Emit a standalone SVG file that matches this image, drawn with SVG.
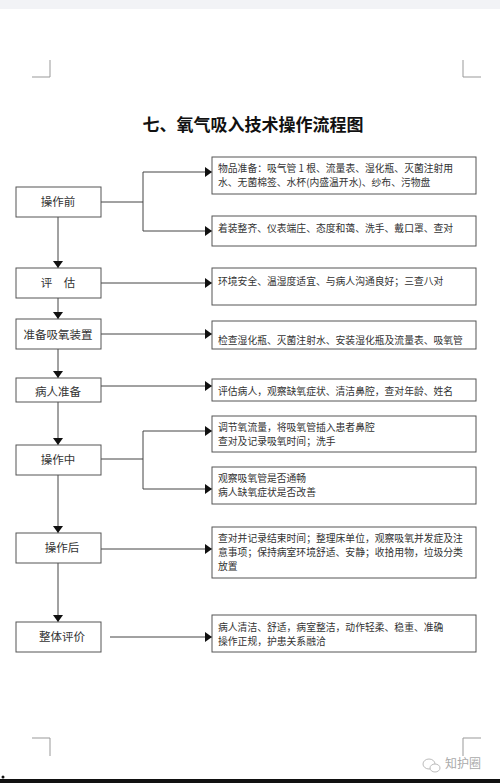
<svg xmlns="http://www.w3.org/2000/svg" width="500" height="783" viewBox="0 0 500 783">
<defs>
<style>
.box{fill:#fff;stroke:#555;stroke-width:1}
.lbl{font-family:"Noto Sans CJK SC","Noto Sans",sans-serif;font-size:11.5px;fill:#333;text-anchor:middle;dominant-baseline:central}
.txt{font-family:"Noto Sans CJK SC","Noto Sans",sans-serif;font-size:9.8px;fill:#333;dominant-baseline:central}
.ln{fill:none;stroke:#444;stroke-width:1}
.crop{fill:none;stroke:#999;stroke-width:1}
</style>
<marker id="ah" markerUnits="userSpaceOnUse" markerWidth="7" markerHeight="10" refX="7" refY="5" orient="auto">
<path d="M0,0 L7,5 L0,10 z" fill="#111"/>
</marker>
</defs>
<rect width="500" height="783" fill="#fff"/>
<rect x="0" y="0" width="500" height="9" fill="#f2f3f6"/>
<g id="crop-marks">
<path class="crop" d="M32,77 H50 V60"/>
<path class="crop" d="M463,60 V77 H481"/>
<path class="crop" d="M32,738 H50 V756"/>
<path class="crop" d="M463,756 V738 H481"/>
</g>
<text x="253" y="123" style="font-family:'Noto Sans CJK SC',sans-serif;font-size:17px;font-weight:bold;fill:#111;text-anchor:middle;dominant-baseline:central">七、氧气吸入技术操作流程图</text>

<g id="connectors">
<path class="ln" d="M58,217 V268" marker-end="url(#ah)"/>
<path class="ln" d="M58,298 V319" marker-end="url(#ah)"/>
<path class="ln" d="M58,349 V378" marker-end="url(#ah)"/>
<path class="ln" d="M58,402 V445" marker-end="url(#ah)"/>
<path class="ln" d="M58,475 V533" marker-end="url(#ah)"/>
<path class="ln" d="M58,563 V622" marker-end="url(#ah)"/>
<path class="ln" d="M101,202 H143"/>
<path class="ln" d="M143,172 V231"/>
<path class="ln" d="M143,172 H212" marker-end="url(#ah)"/>
<path class="ln" d="M143,231 H212" marker-end="url(#ah)"/>
<path class="ln" d="M101,283 H212" marker-end="url(#ah)"/>
<path class="ln" d="M101,334 H212" marker-end="url(#ah)"/>
<path class="ln" d="M101,386 H212" marker-end="url(#ah)"/>
<path class="ln" d="M101,459 H143"/>
<path class="ln" d="M143,431 V489"/>
<path class="ln" d="M143,431 H212" marker-end="url(#ah)"/>
<path class="ln" d="M143,489 H212" marker-end="url(#ah)"/>
<path class="ln" d="M101,549 H212" marker-end="url(#ah)"/>
<path class="ln" d="M110,637 H212" marker-end="url(#ah)"/>
</g>

<g id="n-before">
<rect class="box" x="16" y="187" width="85" height="30"/>
<text class="lbl" x="58" y="201">操作前</text>
</g>
<g id="n-before-a">
<rect class="box" x="212" y="157" width="264" height="37"/>
<text class="txt" x="218" y="168">物品准备：吸气管 1 根、流量表、湿化瓶、灭菌注射用</text>
<text class="txt" x="218" y="182">水、无菌棉签、水杯(内盛温开水)、纱布、污物盘</text>
</g>
<g id="n-before-b">
<rect class="box" x="212" y="216" width="264" height="30"/>
<text class="txt" x="218" y="228">着装整齐、仪表端庄、态度和蔼、洗手、戴口罩、查对</text>
</g>

<g id="n-assess">
<rect class="box" x="16" y="268" width="85" height="30"/>
<text class="lbl" x="58" y="282">评　估</text>
</g>
<g id="n-assess-a">
<rect class="box" x="212" y="268" width="264" height="37"/>
<text class="txt" x="218" y="281">环境安全、温湿度适宜、与病人沟通良好；三查八对</text>
</g>

<g id="n-device">
<rect class="box" x="16" y="319" width="85" height="30"/>
<text class="lbl" x="58" y="334">准备吸氧装置</text>
</g>
<g id="n-device-a">
<rect class="box" x="212" y="321" width="264" height="28"/>
<text class="txt" x="218" y="340">检查湿化瓶、灭菌注射水、安装湿化瓶及流量表、吸氧管</text>
</g>

<g id="n-patient">
<rect class="box" x="16" y="378" width="85" height="24"/>
<text class="lbl" x="58" y="391">病人准备</text>
</g>
<g id="n-patient-a">
<rect class="box" x="212" y="379" width="264" height="22"/>
<text class="txt" x="218" y="391">评估病人，观察缺氧症状、清洁鼻腔，查对年龄、姓名</text>
</g>

<g id="n-during">
<rect class="box" x="16" y="445" width="85" height="30"/>
<text class="lbl" x="58" y="459">操作中</text>
</g>
<g id="n-during-a">
<rect class="box" x="212" y="416" width="264" height="36"/>
<text class="txt" x="218" y="427">调节氧流量，将吸氧管插入患者鼻腔</text>
<text class="txt" x="218" y="441">查对及记录吸氧时间；洗手</text>
</g>
<g id="n-during-b">
<rect class="box" x="212" y="467" width="264" height="37"/>
<text class="txt" x="218" y="478">观察吸氧管是否通畅</text>
<text class="txt" x="218" y="492">病人缺氧症状是否改善</text>
</g>

<g id="n-after">
<rect class="box" x="16" y="533" width="85" height="30"/>
<text class="lbl" x="62" y="547">操作后</text>
</g>
<g id="n-after-a">
<rect class="box" x="212" y="527" width="264" height="51"/>
<text class="txt" x="218" y="538">查对并记录结束时间；整理床单位，观察吸氧并发症及注</text>
<text class="txt" x="218" y="552">意事项；保持病室环境舒适、安静；收拾用物，垃圾分类</text>
<text class="txt" x="218" y="566">放置</text>
</g>

<g id="n-eval">
<rect class="box" x="16" y="622" width="85" height="30"/>
<text class="lbl" x="62" y="636">整体评价</text>
</g>
<g id="n-eval-a">
<rect class="box" x="212" y="615" width="264" height="37"/>
<text class="txt" x="218" y="627">病人清洁、舒适，病室整洁，动作轻柔、稳重、准确</text>
<text class="txt" x="218" y="641">操作正规，护患关系融洽</text>
</g>

<g id="watermark">
<ellipse cx="429" cy="764" rx="6" ry="5" fill="none" stroke="#bbb" stroke-width="1"/>
<ellipse cx="435" cy="768" rx="5" ry="4" fill="#fff" stroke="#bbb" stroke-width="1"/>
<text x="463" y="762" style="font-family:'Noto Sans CJK SC',sans-serif;font-size:12px;fill:#aaa;text-anchor:middle;dominant-baseline:central">知护圈</text>
</g>
<circle cx="3" cy="777" r="1.5" fill="#111"/>
<rect x="0" y="779" width="500" height="4" fill="#111"/>
</svg>
